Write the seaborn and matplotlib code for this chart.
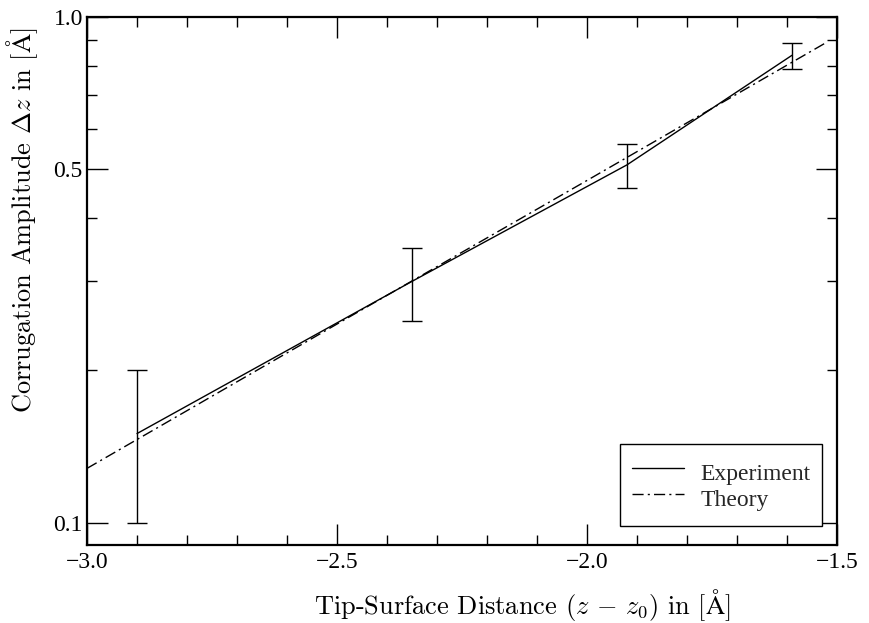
import matplotlib
matplotlib.use("Agg")
import matplotlib.pyplot as plt
import matplotlib.ticker as mticker
import seaborn as sns
import pandas as pd

# Measured corrugation amplitude (with uncertainty) vs tip-surface distance
exp_distance = [-2.90, -2.35, -1.92, -1.59]
exp_amplitude = [0.150, 0.300, 0.510, 0.840]
exp_error = [0.05, 0.05, 0.05, 0.05]

# Calculated corrugation amplitude
theory_distance = [-3.00, -2.50, -2.00, -1.52]
theory_amplitude = [0.128, 0.247, 0.475, 0.892]

x_major = [-3.0, -2.5, -2.0, -1.5]
x_minor = [-2.9, -2.8, -2.7, -2.6, -2.4, -2.3, -2.2, -2.1,
           -1.9, -1.8, -1.7, -1.6]
y_major = [0.1, 0.5, 1.0]
y_minor = [0.2, 0.3, 0.4, 0.6, 0.7, 0.8, 0.9]

sns.set_theme(style="ticks")
plt.rcParams["font.family"] = ["Liberation Serif", "DejaVu Serif"]
plt.rcParams["mathtext.fontset"] = "cm"
plt.rcParams["axes.unicode_minus"] = True

exp_df = pd.DataFrame({"distance": exp_distance, "amplitude": exp_amplitude})
th_df = pd.DataFrame({"distance": theory_distance, "amplitude": theory_amplitude})

fig = plt.figure(figsize=(8.69, 6.23), dpi=100)
ax = fig.add_axes([87 / 869, 1 - 545 / 623, 750 / 869, 528 / 623])

sns.lineplot(data=exp_df, x="distance", y="amplitude", ax=ax, color="black",
             linewidth=1.0, label="Experiment", estimator=None, sort=False)
sns.lineplot(data=th_df, x="distance", y="amplitude", ax=ax, color="black",
             linewidth=1.0, linestyle=(0, (8, 3, 1.5, 3)), label="Theory",
             estimator=None, sort=False)
ax.errorbar(exp_distance, exp_amplitude, yerr=exp_error, fmt="none",
            ecolor="black", elinewidth=1.0, capsize=7.5, capthick=1.0)

ax.set_yscale("log")
ax.set_xlim(-3.0, -1.5)
ax.set_ylim(0.0903, 1.0)

ax.xaxis.set_major_locator(mticker.FixedLocator(x_major))
ax.xaxis.set_minor_locator(mticker.FixedLocator(x_minor))
ax.xaxis.set_major_formatter(mticker.FuncFormatter(
    lambda v, p: f"{v:.1f}".replace("-", "\u2212")))
ax.yaxis.set_major_locator(mticker.FixedLocator(y_major))
ax.yaxis.set_minor_locator(mticker.FixedLocator(y_minor))
ax.yaxis.set_major_formatter(mticker.FuncFormatter(lambda v, p: f"{v:.1f}"))
ax.yaxis.set_minor_formatter(mticker.NullFormatter())

ax.tick_params(which="both", direction="in", top=True, right=True,
               colors="black", width=1.0, labelsize=17)
ax.tick_params(which="major", length=15)
ax.tick_params(which="minor", length=7.5)
ax.tick_params(axis="x", which="major", pad=5)
ax.tick_params(axis="y", which="major", pad=3)
for side in ax.spines.values():
    side.set_linewidth(1.6)
    side.set_color("black")

label_font = dict(family="cmr10", size=19, color="black")
ax.set_xlabel(r"Tip-Surface Distance $(z\,-\,z_0)$ in $[\mathrm{\AA}]$", **label_font)
ax.set_ylabel(r"Corrugation Amplitude $\Delta z$ in $[\mathrm{\AA}]$", **label_font)
ax.xaxis.set_label_coords(0.58, -0.08)
ax.yaxis.set_label_coords(-0.062, 0.615)

leg = ax.legend(loc="lower right", bbox_to_anchor=(0.98, 0.036),
                borderaxespad=0, fancybox=False, frameon=True,
                edgecolor="black", framealpha=1, fontsize=17,
                handlelength=2.2, handletextpad=0.68, borderpad=0.5,
                handleheight=1.75, labelspacing=-0.3)
leg.get_frame().set_linewidth(1.0)

fig.savefig("out.png", dpi=100, facecolor="white")
